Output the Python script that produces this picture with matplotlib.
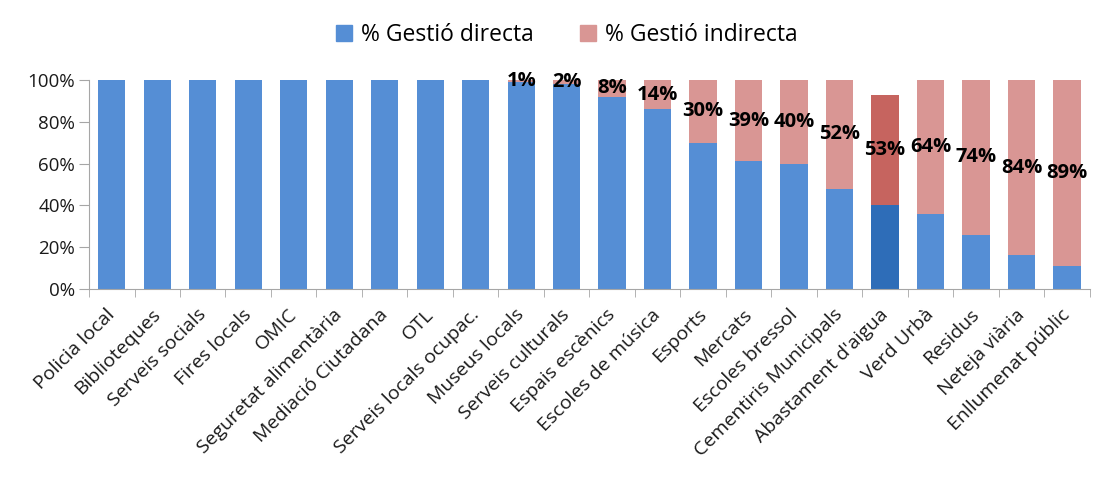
import numpy as np
import matplotlib
matplotlib.use("Agg")
import matplotlib.pyplot as plt
import matplotlib.transforms as mtransforms
from matplotlib.ticker import PercentFormatter

# Dades
serveis = ["Policia local", "Biblioteques", "Serveis socials", "Fires locals", "OMIC",
           "Seguretat alimentària", "Mediació Ciutadana", "OTL", "Serveis locals ocupac.",
           "Museus locals", "Serveis culturals", "Espais escènics", "Escoles de música",
           "Esports", "Mercats", "Escoles bressol", "Cementiris Municipals",
           "Abastament d'aigua", "Verd Urbà", "Residus", "Neteja viària", "Enllumenat públic"]
directa = [100, 100, 100, 100, 100, 100, 100, 100, 100,
           99, 98, 92, 86, 70, 61, 60, 48, 40, 36, 26, 16, 11]
indirecta = [0, 0, 0, 0, 0, 0, 0, 0, 0,
             1, 2, 8, 14, 30, 39, 40, 52, 53, 64, 74, 84, 89]
destacat = "Abastament d'aigua"

plt.rcParams['font.family'] = ['Open Sans', 'DejaVu Sans']

blau = "#558ED5"
rosa = "#D99694"
blau_fosc = "#2E6DB8"
vermell_fosc = "#C6645F"

fig = plt.figure(figsize=(11.03, 4.79), dpi=100)
ax = fig.add_axes([0.0807, 0.397, 0.9073, 0.436])

x = np.arange(len(serveis))
col_dir = [blau_fosc if s == destacat else blau for s in serveis]
col_ind = [vermell_fosc if s == destacat else rosa for s in serveis]

b1 = ax.bar(x, directa, width=0.6, color=col_dir, label="% Gestió directa", zorder=2)
b2 = ax.bar(x, indirecta, width=0.6, bottom=directa, color=col_ind,
            label="% Gestió indirecta", zorder=2)

# etiquetes de % indirecta
for i in range(len(serveis)):
    if indirecta[i] > 0:
        ax.text(x[i], directa[i] + indirecta[i] / 2, f"{indirecta[i]}%",
                ha="center", va="center", fontsize=14.5, fontweight="bold",
                color="black", zorder=3)

ax.set_xlim(-0.5, len(serveis) - 0.5)
ax.set_ylim(0, 100)
ax.set_yticks(np.arange(0, 101, 20))
ax.yaxis.set_major_formatter(PercentFormatter(decimals=0))

ax.set_xticks(x)
ax.set_xticklabels(serveis, rotation=45, ha="right", rotation_mode="anchor", fontsize=14)
ax.set_xticks(np.arange(-0.5, len(serveis), 1), minor=True)
ax.tick_params(axis="x", which="major", length=0, pad=12)
ax.tick_params(axis="x", which="minor", length=6, color="#A6A6A6")
ax.tick_params(axis="y", labelsize=13.5, length=7, color="#A6A6A6", pad=3)
ax.tick_params(axis="both", labelcolor="#1a1a1a")

# desplaçar una mica les etiquetes a l'esquerra
desplac = mtransforms.ScaledTranslation(-6 / 100, 0, fig.dpi_scale_trans)
for lbl in ax.get_xticklabels():
    lbl.set_transform(lbl.get_transform() + desplac)

for s in ["top", "right"]:
    ax.spines[s].set_visible(False)
for s in ["left", "bottom"]:
    ax.spines[s].set_color("#A6A6A6")

leg = fig.legend(handles=[b1[0], b2[0]], labels=["% Gestió directa", "% Gestió indirecta"],
                 loc="center", bbox_to_anchor=(0.514, 0.927), ncol=2, frameon=False,
                 fontsize=16.5, handlelength=0.7, handleheight=0.7, columnspacing=2.0,
                 handletextpad=0.4)
leg.legend_handles[0].set_color(blau)
leg.legend_handles[1].set_color(rosa)

fig.savefig("out.png", dpi=100)
